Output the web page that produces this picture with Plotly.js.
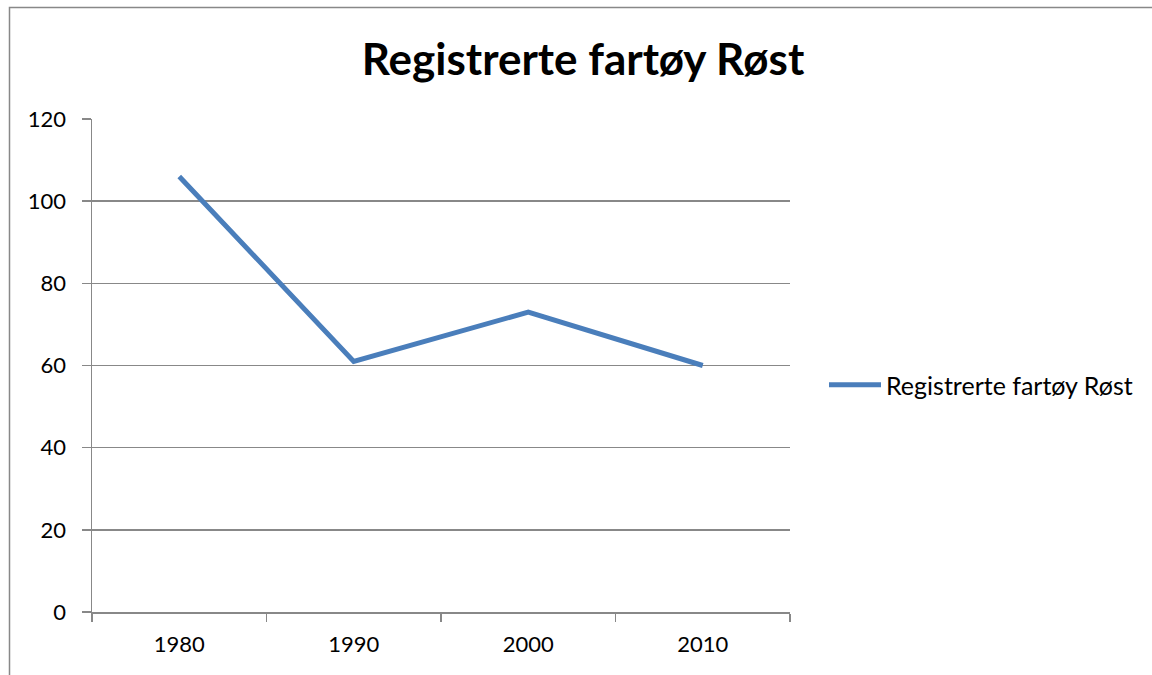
<!DOCTYPE html>
<html>
<head>
<meta charset="utf-8">
<script src="https://cdn.plot.ly/plotly-3.0.1.min.js"></script>
<style>html,body{margin:0;padding:0;background:#fff;}#chart{width:1152px;height:675px;}</style>
</head>
<body>
<div id="chart"></div>
<script>
const categories = ["1980", "1990", "2000", "2010"];
const values = [106, 61, 73, 60];
const seriesName = "Registrerte fartøy Røst";
const chartTitle = "Registrerte fartøy Røst";
const yTicks = [0, 20, 40, 60, 80, 100, 120];

const W = 1152, H = 675;
const L = 92, R = 362, T = 119, B = 63;
const pw = W - L - R, ph = H - T - B;
const px = v => (v - L) / pw;
const py = v => 1 - (v - T) / ph;

const font = "Lato, 'Open Sans', sans-serif";
const grey = "#888888";

const trace = {
  type: "scatter",
  mode: "lines",
  x: categories,
  y: values,
  name: seriesName,
  line: {color: "#4A7EBB", width: 5},
  showlegend: true
};

const layout = {
  width: W, height: H,
  margin: {l: L, r: R, t: T, b: B, pad: 0},
  paper_bgcolor: "#fff",
  plot_bgcolor: "#fff",
  title: {
    text: chartTitle,
    font: {family: font, size: 44, color: "#000", weight: "bold"},
    x: px(583), xref: "paper", xanchor: "center",
    y: 1 - 60 / H, yanchor: "middle"
  },
  xaxis: {
    type: "category",
    range: [-0.5, 3.5],
    tickson: "boundaries",
    ticks: "outside", ticklen: 8, tickcolor: grey, tickwidth: 1.5,
    showline: true, linecolor: grey, linewidth: 1.5,
    showgrid: false, zeroline: false,
    tickfont: {family: font, size: 22, color: "#000"},
    ticklabelstandoff: 12,
    fixedrange: true
  },
  yaxis: {
    range: [0, 120],
    tickvals: yTicks,
    ticks: "outside", ticklen: 9, tickcolor: grey, tickwidth: 1.5,
    showline: true, linecolor: grey, linewidth: 1.5,
    showgrid: true, gridcolor: grey, gridwidth: 1.5,
    zeroline: false,
    tickfont: {family: font, size: 22, color: "#000"},
    ticklabelstandoff: 11,
    fixedrange: true
  },
  legend: {
    x: px(824), y: py(385), xanchor: "left", yanchor: "middle",
    font: {family: font, size: 25, color: "#000"},
    bgcolor: "rgba(0,0,0,0)",
    itemwidth: 52
  },
  shapes: [{
    type: "rect", xref: "paper", yref: "paper",
    x0: px(9.5), x1: px(1200), y0: py(7.5), y1: py(720),
    line: {color: grey, width: 1.5}, fillcolor: "rgba(0,0,0,0)", layer: "below"
  }]
};

Plotly.newPlot("chart", [trace], layout, {displayModeBar: false, staticPlot: true});
</script>
</body>
</html>
